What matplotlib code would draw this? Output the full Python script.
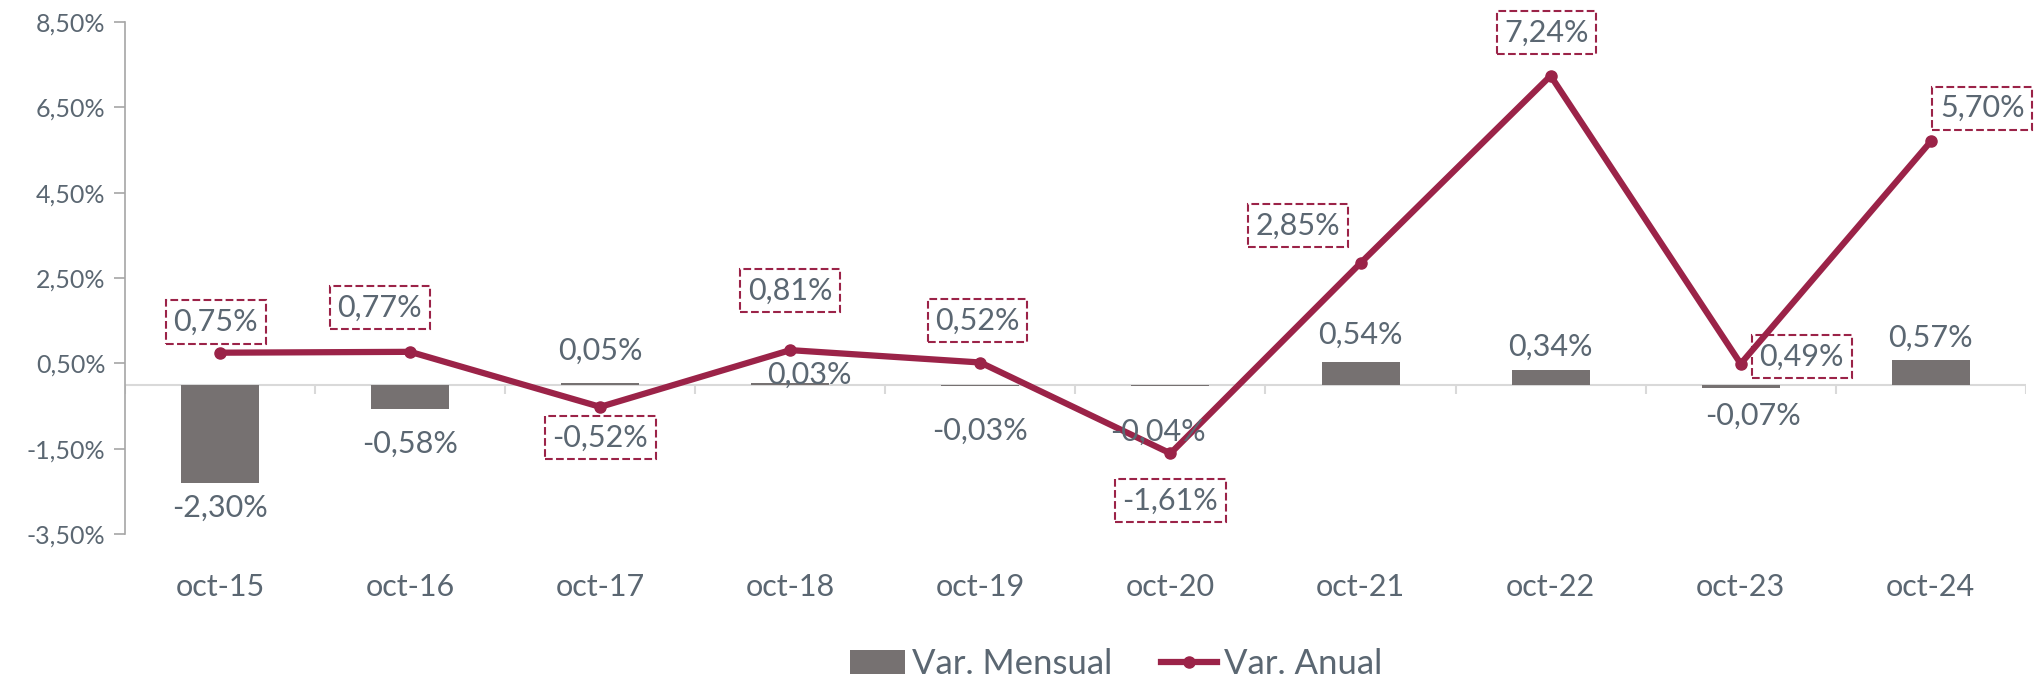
import matplotlib.pyplot as plt
from matplotlib.ticker import FuncFormatter

# datos
meses = ['oct-15', 'oct-16', 'oct-17', 'oct-18', 'oct-19',
         'oct-20', 'oct-21', 'oct-22', 'oct-23', 'oct-24']
var_mensual = [-2.30, -0.58, 0.05, 0.03, -0.03, -0.04, 0.54, 0.34, -0.07, 0.57]
var_anual = [0.75, 0.77, -0.52, 0.81, 0.52, -1.61, 2.85, 7.24, 0.49, 5.70]

# desplazamiento de las etiquetas (puntos)
off_mensual = [(0, -18), (0, -25), (0, 23), (14, 6), (0, -32),
               (-9, -33), (0, 19), (0, 17), (9, -20), (0, 16)]
off_anual = [(-3, 22), (-22, 32), (0, -22), (0, 43), (-2, 30),
             (0, -34), (-45, 27), (-3, 31), (44, 5), (37, 24)]

gris = '#767171'
granate = '#9b2348'
texto = '#5b6772'
plt.rcParams['font.family'] = ['Lato', 'DejaVu Sans']

def fmt(v):
    return f'{v:.2f}'.replace('.', ',') + '%'

fig = plt.figure(figsize=(20.36, 6.79), dpi=100)
ax = fig.add_axes([0.0614, 0.2135, 0.9336, 0.7541])

x = list(range(len(meses)))
barras = ax.bar(x, var_mensual, width=0.41, color=gris, label='Var. Mensual', zorder=2)
linea, = ax.plot(x, var_anual, color=granate, lw=4.5, marker='o', ms=8,
                 label='Var. Anual', zorder=3)

for i, v in enumerate(var_mensual):
    ax.annotate(fmt(v), (i, v), xytext=off_mensual[i], textcoords='offset points',
                ha='center', va='center', fontsize=22, color=texto, zorder=4)

for i, v in enumerate(var_anual):
    ax.annotate(fmt(v), (i, v), xytext=off_anual[i], textcoords='offset points',
                ha='center', va='center', fontsize=22, color=texto, zorder=4,
                bbox=dict(boxstyle='square,pad=0.25', fc='none', ec=granate,
                          ls='--', lw=1.5))

# eje en cero y separadores
ax.axhline(0, color='#d9d9d9', lw=1.5, zorder=1)
ax.vlines([i + 0.5 for i in x[:-1]] + [-0.5, 9.5], -0.21, 0, color='#d9d9d9', lw=1.5)

ax.set_xlim(-0.5, 9.5)
ax.set_ylim(-3.5, 8.5)
ax.set_yticks([-3.5, -1.5, 0.5, 2.5, 4.5, 6.5, 8.5])
ax.yaxis.set_major_formatter(FuncFormatter(lambda v, p: fmt(v)))
ax.set_xticks(x)
ax.set_xticklabels(meses)
ax.tick_params(axis='x', length=0, pad=28, labelsize=22, labelcolor=texto)
ax.tick_params(axis='y', length=8, width=1.2, color='#a6a6a6', pad=6,
               labelsize=18, labelcolor=texto)

for s in ['top', 'right', 'bottom']:
    ax.spines[s].set_visible(False)
ax.spines['left'].set_color('#a6a6a6')
ax.spines['left'].set_linewidth(1.2)

fig.legend([barras, linea], ['Var. Mensual', 'Var. Anual'], loc='center',
           bbox_to_anchor=(0.548, 0.022), ncol=2, frameon=False,
           fontsize=25, labelcolor=texto, handlelength=1.6, columnspacing=1.4,
           handletextpad=0.2)

fig.savefig('out.png', dpi=100)
